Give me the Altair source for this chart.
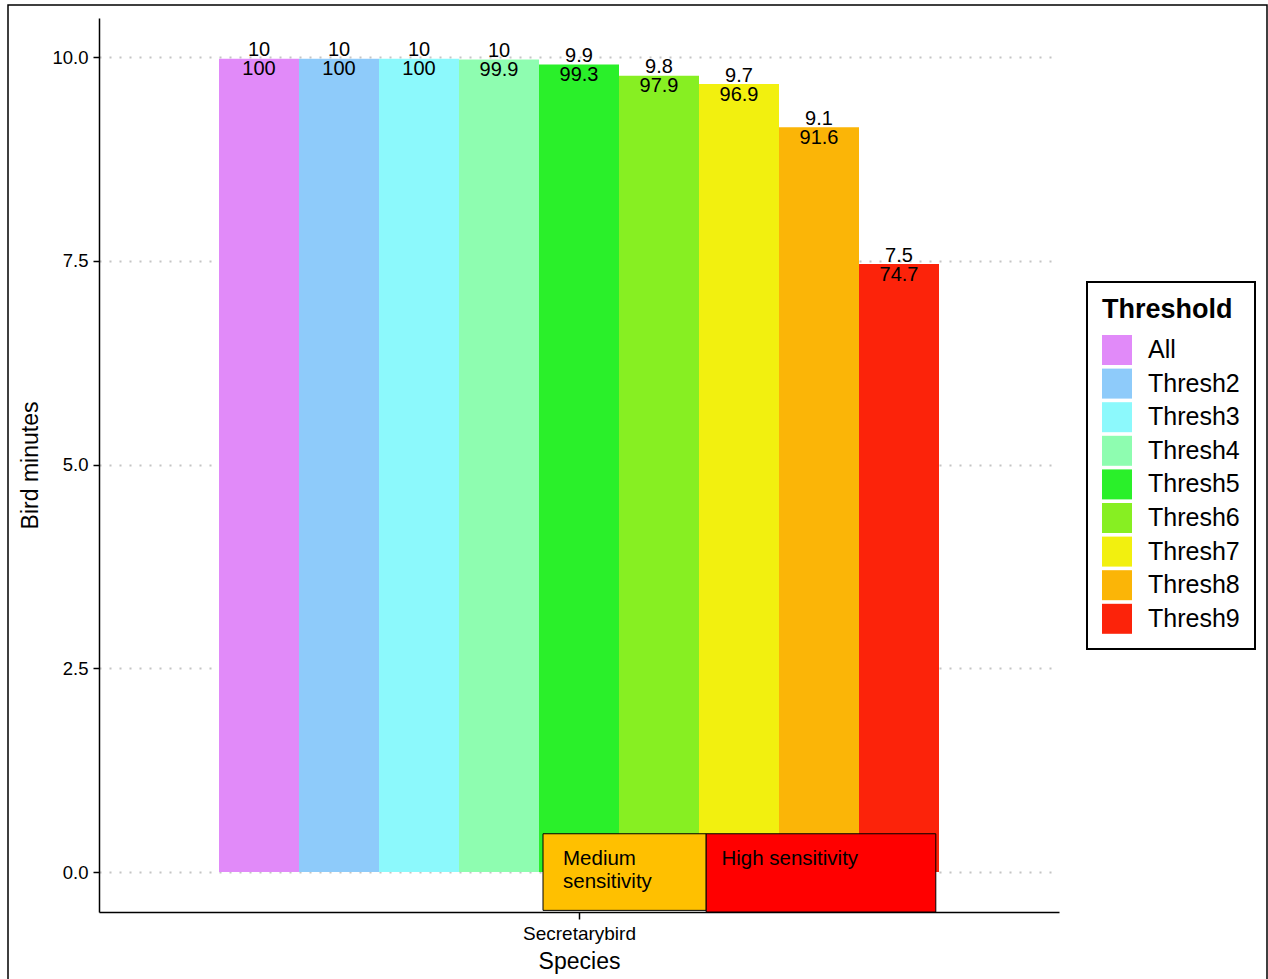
import altair as alt
import pandas as pd

# Bird minutes retained at each detection threshold for one species
species = "Secretarybird"
thresholds = ["All", "Thresh2", "Thresh3", "Thresh4", "Thresh5",
              "Thresh6", "Thresh7", "Thresh8", "Thresh9"]
minutes = [9.98, 9.98, 9.98, 9.97, 9.91, 9.77, 9.67, 9.14, 7.46]
percent = [100, 100, 100, 99.9, 99.3, 97.9, 96.9, 91.6, 74.7]
colors = ["#E18AF9", "#8ECBFA", "#8CF9FC", "#8EFDB0", "#2AF02A",
          "#87EF22", "#F2F00F", "#FBB507", "#FC230A"]

# Sensitivity annotation boxes (data coordinates)
band_names = ["Medium sensitivity", "High sensitivity"]
band_text = ["Medium\nsensitivity", "High sensitivity"]
band_x0 = [4.05, 6.09]
band_x1 = [6.09, 8.96]
band_y0 = [-0.47, -0.49]
band_y1 = [0.47, 0.47]
band_text_x = [4.30, 6.28]
band_text_y = [0.086, 0.086]
band_fill = ["#FFC000", "#FF0000"]

bars = pd.DataFrame({
    "Threshold": thresholds,
    "minutes": minutes,
    "percent": percent,
})
bars["lo"] = range(len(thresholds))
bars["hi"] = bars["lo"] + 1
bars["mid"] = bars["lo"] + 0.5

bands = pd.DataFrame({
    "name": band_names, "text": band_text,
    "x0": band_x0, "x1": band_x1, "y0": band_y0, "y1": band_y1,
    "tx": band_text_x, "ty": band_text_y, "fill": band_fill,
})

FONT = "Liberation Sans"

x_scale = alt.Scale(domain=[-1.5, 10.5], nice=False, zero=False)
y_scale = alt.Scale(domain=[-0.49, 10.48], nice=False, zero=False)

x_axis = alt.Axis(values=[4.5], labelExpr="'" + species + "'", title="Species",
                  grid=False)
y_axis = alt.Axis(values=[0, 2.5, 5, 7.5, 10], format=".1f", title="Bird minutes",
                  grid=True)

base = alt.Chart(bars)

bar_layer = base.mark_rect().encode(
    x=alt.X("lo:Q", scale=x_scale, axis=x_axis),
    x2="hi:Q",
    y=alt.Y("minutes:Q", scale=y_scale, axis=y_axis),
    y2=alt.datum(0),
    color=alt.Color(
        "Threshold:N",
        scale=alt.Scale(domain=thresholds, range=colors),
        legend=alt.Legend(
            title="Threshold", orient="none", legendX=988, legendY=264,
            symbolType="square", symbolSize=900, symbolStrokeWidth=0,
            symbolOpacity=1, rowPadding=3.6, labelOffset=16,
            labelFontSize=25, titleFontSize=27, titleFontWeight="bold",
            titlePadding=11, padding=15, strokeColor="black",
            labelColor="black", titleColor="black",
        ),
    ),
)

# Rounded minutes sit just above each bar, percentage just below its top
top_labels = base.mark_text(fontSize=20, baseline="alphabetic", dy=-2.5,
                            color="black", font=FONT).encode(
    x=alt.X("mid:Q", scale=x_scale),
    y=alt.Y("minutes:Q", scale=y_scale),
    text=alt.Text("minutes:Q", format=".1~f"),
)

pct_labels = base.mark_text(fontSize=20, baseline="alphabetic", dy=16.5,
                            color="black", font=FONT).encode(
    x=alt.X("mid:Q", scale=x_scale),
    y=alt.Y("minutes:Q", scale=y_scale),
    text=alt.Text("percent:Q", format=".1~f"),
)

band_boxes = alt.Chart(bands).mark_rect(stroke="black", strokeWidth=1).encode(
    x=alt.X("x0:Q", scale=x_scale),
    x2="x1:Q",
    y=alt.Y("y0:Q", scale=y_scale),
    y2="y1:Q",
    fill=alt.Fill("fill:N", scale=None),
)

band_labels = alt.Chart(bands).mark_text(
    fontSize=20.5, align="left", baseline="alphabetic", lineBreak="\n",
    lineHeight=23, color="black", font=FONT,
).encode(
    x=alt.X("tx:Q", scale=x_scale),
    y=alt.Y("ty:Q", scale=y_scale),
    text="text:N",
)

frame = alt.Chart(pd.DataFrame({"f": [0]})).mark_rect(
    fillOpacity=0, stroke="black", strokeWidth=1.5, clip=False,
).encode(
    x=alt.value(-91), x2=alt.value(1168),
    y=alt.value(-13), y2=alt.value(1000),
)

chart = alt.layer(
    bar_layer, top_labels, pct_labels, band_boxes, band_labels, frame,
).properties(
    width=960, height=894,
    autosize=alt.AutoSizeParams(type="none"),
    padding={"left": 99, "top": 18, "right": 209, "bottom": 67},
    background="white",
).configure(
    font=FONT,
).configure_view(
    stroke=None,
).configure_axis(
    domainColor="black", domainWidth=1.5, tickColor="black", tickWidth=1.5,
    labelColor="black", titleColor="black", labelFont=FONT, titleFont=FONT,
    titleFontWeight="normal", titleFontSize=23,
).configure_axisX(
    tickSize=7, labelFontSize=19, labelPadding=5, titlePadding=7,
    grid=False,
).configure_axisY(
    tickSize=6, labelFontSize=18.5, labelPadding=5, titlePadding=9,
    gridDash=[2, 8], gridColor="#C4C4C4", gridWidth=2,
).configure_legend(
    strokeWidth=2, labelFont=FONT, titleFont=FONT,
)

chart.save("out.html", embed_options={"renderer": "svg", "actions": False})
